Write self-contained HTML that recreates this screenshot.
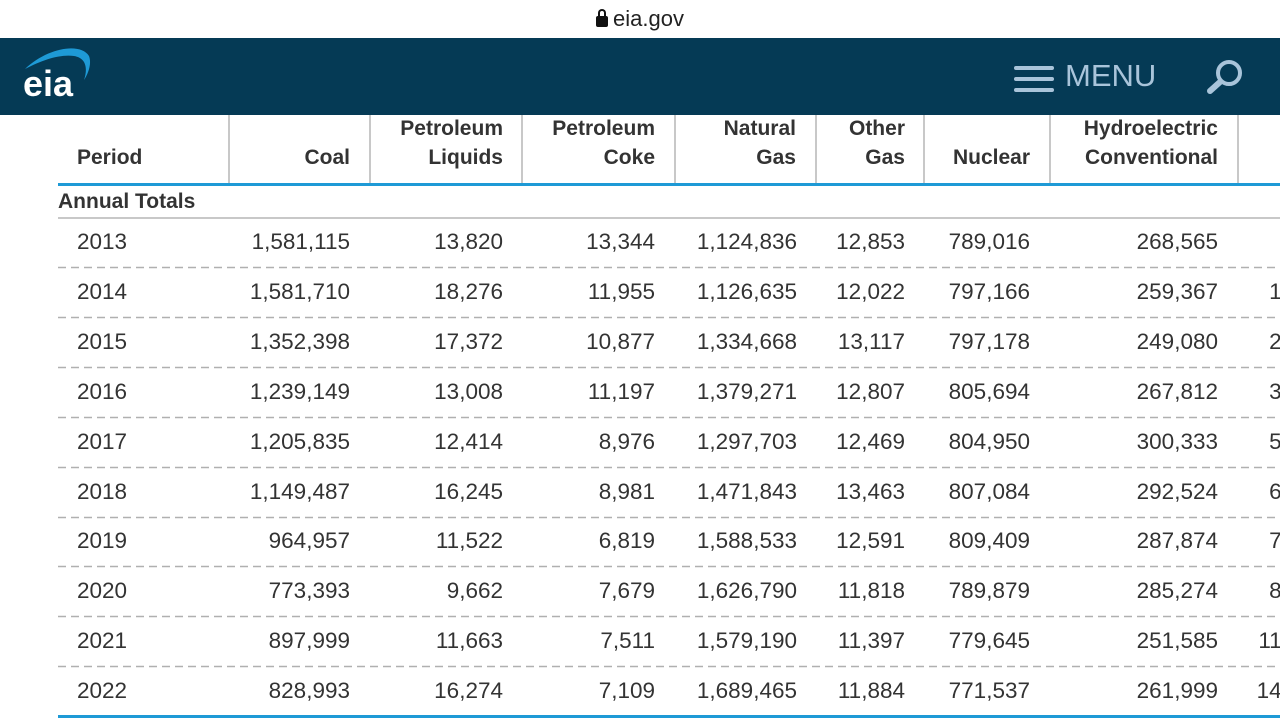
<!DOCTYPE html>
<html><head><meta charset="utf-8"><style>
html,body{margin:0;padding:0;width:1280px;height:720px;overflow:hidden;background:#fff;font-family:"Liberation Sans",Arial,sans-serif;color:#333;}
.abs{position:absolute;white-space:nowrap;}
.url{top:6px;left:0;width:1280px;text-align:center;font-size:22px;color:#222;}
.bar{top:38px;left:0;width:1280px;height:77px;background:#053a55;}
.vs{position:absolute;top:115px;width:2px;height:68px;background:#c8c8c8;}
.h{font-weight:bold;font-size:21px;line-height:29px;color:#333;}
.r{text-align:right;}
.c{font-size:22.5px;color:#333;}
.dash{position:absolute;left:58px;}
</style></head><body>
<div class="abs url"><span style="display:inline-block;position:relative;width:12px;height:11px;background:#111;border-radius:2px;margin-right:5px;vertical-align:-1px"><span style="position:absolute;left:2px;top:-7px;width:4px;height:6px;border:2px solid #111;border-bottom:none;border-radius:5px 5px 0 0"></span></span>eia.gov</div>
<div class="abs bar"></div>
<svg class="abs" style="left:22px;top:44px" width="75" height="55" viewBox="0 0 75 55">
<path d="M3 25 C25 4 58 -2 67 12 C70 20 66 30 62 36 C66 24 64 14 52 12 C38 10 20 16 3 25Z" fill="#1e9ad6"/>
<text x="1" y="52" font-family="Liberation Sans,Arial,sans-serif" font-weight="bold" font-size="36" fill="#fff">eia</text>
</svg>
<div class="abs" style="left:1014px;top:66px;width:40px;height:4px;background:#a9c4da;border-radius:2px"></div>
<div class="abs" style="left:1014px;top:77px;width:40px;height:4px;background:#a9c4da;border-radius:2px"></div>
<div class="abs" style="left:1014px;top:88px;width:40px;height:4px;background:#a9c4da;border-radius:2px"></div>
<div class="abs" style="left:1065px;top:58px;font-size:31px;color:#a9c4da;">MENU</div>
<svg class="abs" style="left:1205px;top:56px" width="44" height="40"><circle cx="24" cy="17" r="11" fill="none" stroke="#a9c4da" stroke-width="4"/><line x1="15" y1="26" x2="5" y2="35" stroke="#a9c4da" stroke-width="6" stroke-linecap="round"/></svg>

<div class="vs" style="left:228px"></div><div class="vs" style="left:369px"></div><div class="vs" style="left:521px"></div><div class="vs" style="left:674px"></div><div class="vs" style="left:815px"></div><div class="vs" style="left:923px"></div><div class="vs" style="left:1049px"></div><div class="vs" style="left:1237px"></div>

<div class="abs h" style="left:77px;top:143px">Period</div>
<div class="abs h r" style="right:930px;top:143px">Coal</div>
<div class="abs h r" style="right:777px;top:114px">Petroleum<br>Liquids</div>
<div class="abs h r" style="right:625px;top:114px">Petroleum<br>Coke</div>
<div class="abs h r" style="right:484px;top:114px">Natural<br>Gas</div>
<div class="abs h r" style="right:375px;top:114px">Other<br>Gas</div>
<div class="abs h r" style="right:250px;top:143px">Nuclear</div>
<div class="abs h r" style="right:62px;top:114px">Hydroelectric<br>Conventional</div>

<div class="abs" style="left:58px;top:183px;width:1222px;height:3px;background:#1e9ad6"></div>
<div class="abs h" style="left:58px;top:187px">Annual Totals</div>
<div class="abs" style="left:58px;top:217px;width:1222px;height:2px;background:#c8c8c8"></div>

<div id="rows"></div>
<div class="abs" style="left:58px;top:715px;width:1222px;height:3px;background:#1e9ad6"></div>
<script>
var d=[["2013","1,581,115","13,820","13,344","1,124,836","12,853","789,016","268,565","9,036"],
["2014","1,581,710","18,276","11,955","1,126,635","12,022","797,166","259,367","17,691"],
["2015","1,352,398","17,372","10,877","1,334,668","13,117","797,178","249,080","24,893"],
["2016","1,239,149","13,008","11,197","1,379,271","12,807","805,694","267,812","36,054"],
["2017","1,205,835","12,414","8,976","1,297,703","12,469","804,950","300,333","53,287"],
["2018","1,149,487","16,245","8,981","1,471,843","13,463","807,084","292,524","63,825"],
["2019","964,957","11,522","6,819","1,588,533","12,591","809,409","287,874","71,937"],
["2020","773,393","9,662","7,679","1,626,790","11,818","789,879","285,274","88,945"],
["2021","897,999","11,663","7,511","1,579,190","11,397","779,645","251,585","115,258"],
["2022","828,993","16,274","7,109","1,689,465","11,884","771,537","261,999","143,797"]];
var rights=[930,777,625,483,375,250,62,-58];
var h="";
d.forEach(function(r,i){var t=229+i*49.9;
h+='<div class="abs c" style="left:77px;top:'+t+'px">'+r[0]+'</div>';
for(var j=1;j<r.length;j++)h+='<div class="abs c r" style="right:'+rights[j-1]+'px;top:'+t+'px">'+r[j]+'</div>';
if(i<9)h+='<svg class="dash" style="top:'+(t+37)+'px" width="1222" height="3"><line x1="0" y1="1.5" x2="1222" y2="1.5" stroke="#b0b0b0" stroke-width="1.6" stroke-dasharray="8,5"/></svg>';});
document.getElementById("rows").innerHTML=h;
</script>
</body></html>
